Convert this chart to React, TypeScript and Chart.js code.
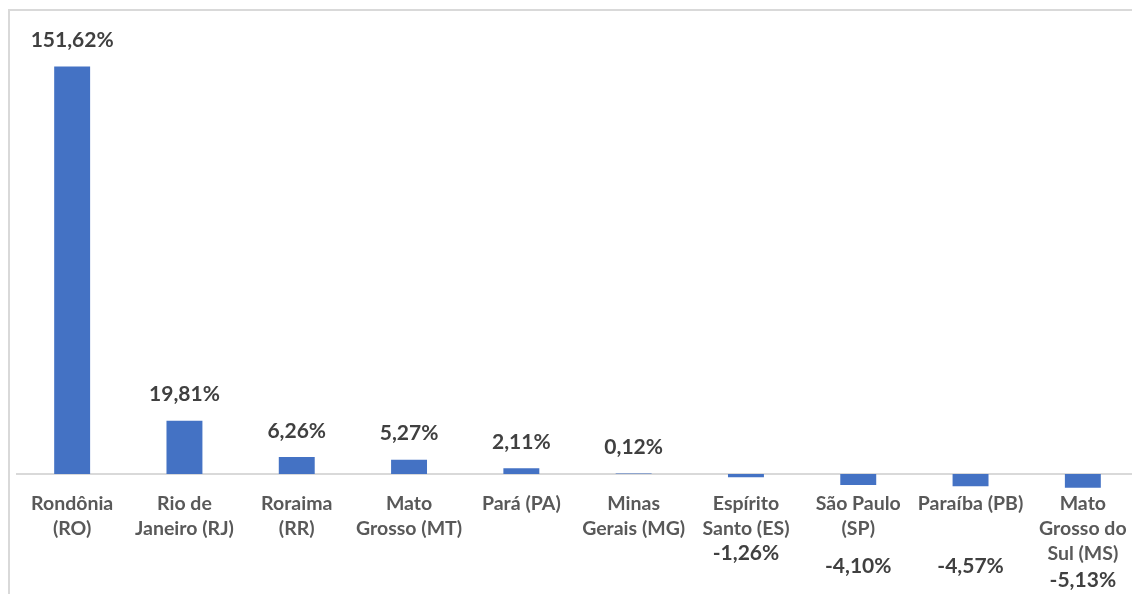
import React, { useEffect, useRef } from "react";
import { Chart, registerables } from "chart.js";

Chart.register(...registerables);

const categories: string[][] = [
  ["Rondônia", "(RO)"],
  ["Rio de", "Janeiro (RJ)"],
  ["Roraima", "(RR)"],
  ["Mato", "Grosso (MT)"],
  ["Pará (PA)"],
  ["Minas", "Gerais (MG)"],
  ["Espírito", "Santo (ES)"],
  ["São Paulo", "(SP)"],
  ["Paraíba (PB)"],
  ["Mato", "Grosso do", "Sul (MS)"],
];

const values: number[] = [151.62, 19.81, 6.26, 5.27, 2.11, 0.12, -1.26, -4.1, -4.57, -5.13];

const valueLabels: string[] = values.map((v) => v.toFixed(2).replace(".", ",") + "%");

const FONT = "Lato, 'Open Sans', sans-serif";

// style: vertical distance (px) of negative value labels below the zero line
const negativeLabelOffsets: number[] = [0, 0, 0, 0, 0, 0, 79, 92, 92, 106];

const framePlugin = {
  id: "frame",
  beforeDraw(chart: any) {
    const ctx = chart.ctx;
    ctx.save();
    ctx.fillStyle = "#ffffff";
    ctx.fillRect(0, 0, chart.width, chart.height);
    ctx.strokeStyle = "#d9d9d9";
    ctx.lineWidth = 2;
    ctx.strokeRect(9, 10, 4000, 4000);
    ctx.restore();
  },
  beforeDatasetsDraw(chart: any) {
    const ctx = chart.ctx;
    const y0 = chart.scales.y.getPixelForValue(0);
    ctx.save();
    ctx.strokeStyle = "#d9d9d9";
    ctx.lineWidth = 2;
    ctx.beginPath();
    ctx.moveTo(chart.chartArea.left, y0);
    ctx.lineTo(chart.chartArea.right + 10, y0);
    ctx.stroke();
    ctx.restore();
  },
  afterDatasetsDraw(chart: any) {
    const ctx = chart.ctx;
    const meta = chart.getDatasetMeta(0);
    const y0 = chart.scales.y.getPixelForValue(0);
    ctx.save();
    ctx.font = `bold 21px ${FONT}`;
    ctx.fillStyle = "#404040";
    ctx.textAlign = "center";
    ctx.textBaseline = "middle";
    meta.data.forEach((el: any, i: number) => {
      const v = values[i];
      let ty: number;
      if (v >= 0) ty = el.y - 26;
      else ty = y0 + negativeLabelOffsets[i];
      ctx.fillText(valueLabels[i], el.x, ty);
    });
    ctx.restore();
  },
};

export default function App() {
  const ref = useRef<HTMLCanvasElement | null>(null);
  useEffect(() => {
    if (!ref.current) return;
    const chart = new Chart(ref.current, {
      type: "bar",
      data: {
        labels: categories,
        datasets: [
          {
            data: values,
            backgroundColor: "#4472C4",
            barPercentage: 0.32,
            categoryPercentage: 1,
          },
        ],
      },
      options: {
        responsive: false,
        animation: false,
        devicePixelRatio: 1,
        layout: { padding: { left: 16, right: 1, top: 44, bottom: 0 } },
        plugins: { legend: { display: false }, tooltip: { enabled: false } },
        scales: {
          x: {
            grid: { display: false, drawTicks: false },
            border: { display: false },
            ticks: {
              autoSkip: false,
              maxRotation: 0,
              minRotation: 0,
              padding: 1,
              color: "#595959",
              font: { family: FONT, size: 19.5, weight: "bold", lineHeight: 25 / 19.5 },
            },
            afterFit: (scale: any) => {
              scale.height = 104;
            },
          },
          y: {
            display: false,
            min: -6,
            max: 160,
          },
        },
      },
      plugins: [framePlugin],
    });
    return () => chart.destroy();
  }, []);
  return (
    <div style={{ position: "fixed", left: 0, top: 0, width: 1132, height: 594, overflow: "hidden", background: "#fff" }}>
      <canvas ref={ref} width={1140} height={594} style={{ display: "block", width: 1140, height: 594 }} />
    </div>
  );
}
